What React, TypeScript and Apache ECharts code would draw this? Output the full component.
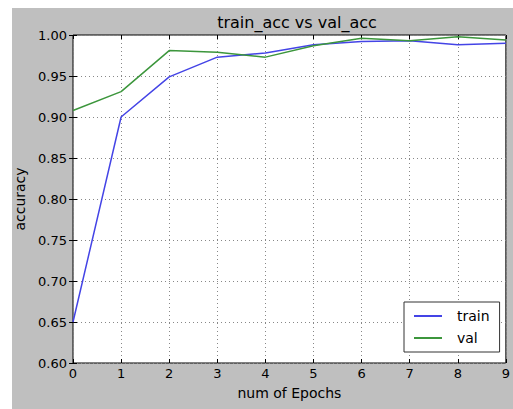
import React, { useEffect, useRef } from "react";
import * as echarts from "echarts";

const epochs = [0, 1, 2, 3, 4, 5, 6, 7, 8, 9];
const trainAcc = [0.65, 0.9, 0.949, 0.973, 0.978, 0.988, 0.992, 0.993, 0.988, 0.99];
const valAcc = [0.908, 0.931, 0.981, 0.979, 0.973, 0.987, 0.996, 0.993, 0.998, 0.994];
const seriesNames = ["train", "val"];

const FONT = "DejaVu Sans";

export default function App() {
  const ref = useRef<HTMLDivElement>(null);
  useEffect(() => {
    if (!ref.current) return;
    const chart = echarts.init(ref.current, undefined, { renderer: "svg" });
    const tickCommon = { show: true, inside: true, length: 4, lineStyle: { color: "#000", width: 1 } };
    chart.setOption({
      animation: false,
      backgroundColor: "#fff",
      textStyle: { fontFamily: FONT },
      graphic: [
        {
          type: "rect",
          z: -100,
          silent: true,
          shape: { x: 12, y: 8, width: 501, height: 401 },
          style: { fill: "#bfbfbf" },
        },
      ],
      title: {
        text: "train_acc vs val_acc",
        left: 292,
        textAlign: "center",
        top: 9,
        textStyle: { fontFamily: FONT, fontSize: 16, fontWeight: "normal", color: "#000" },
      },
      grid: {
        left: 73,
        right: 2,
        top: 35,
        bottom: 46,
        show: true,
        backgroundColor: "#fff",
        borderColor: "#000",
        borderWidth: 1,
      },
      legend: {
        data: seriesNames,
        orient: "vertical",
        left: 404,
        top: 302,
        padding: [7, 10, 7, 10],
        itemGap: 8,
        itemWidth: 28,
        itemHeight: 2,
        icon: "rect",
        backgroundColor: "#fff",
        borderColor: "#333",
        borderWidth: 1,
        borderRadius: 0,
        textStyle: { fontFamily: FONT, fontSize: 14, color: "#000", padding: [0, 0, 0, 10] },
      },
      xAxis: [
        {
          type: "value",
          min: 0,
          max: 9,
          interval: 1,
          name: "num of Epochs",
          nameLocation: "middle",
          nameGap: 23,
          nameTextStyle: { fontFamily: FONT, fontSize: 14, color: "#000" },
          axisLine: { show: false },
          axisTick: tickCommon,
          axisLabel: { color: "#000", fontFamily: FONT, fontSize: 13, margin: 4 },
          splitLine: { show: true, lineStyle: { color: "#888", type: [1, 3], width: 1 } },
        },
        {
          type: "value",
          position: "top",
          min: 0,
          max: 9,
          interval: 1,
          axisLine: { show: false },
          axisTick: tickCommon,
          axisLabel: { show: false },
          splitLine: { show: false },
        },
      ],
      yAxis: [
        {
          type: "value",
          min: 0.6,
          max: 1.0,
          interval: 0.05,
          name: "accuracy",
          nameLocation: "middle",
          nameGap: 38,
          nameTextStyle: { fontFamily: FONT, fontSize: 14, color: "#000" },
          axisLine: { show: false },
          axisTick: tickCommon,
          axisLabel: {
            color: "#000",
            fontFamily: FONT,
            fontSize: 13,
            margin: 6,
            formatter: (v: number) => v.toFixed(2),
          },
          splitLine: { show: true, lineStyle: { color: "#888", type: [1, 3], width: 1 } },
        },
        {
          type: "value",
          position: "right",
          min: 0.6,
          max: 1.0,
          interval: 0.05,
          axisLine: { show: false },
          axisTick: tickCommon,
          axisLabel: { show: false },
          splitLine: { show: false },
        },
      ],
      series: [
        {
          name: seriesNames[0],
          type: "line",
          symbol: "none",
          data: epochs.map((e, i) => [e, trainAcc[i]]),
          lineStyle: { color: "#4444e6", width: 1.5 },
          itemStyle: { color: "#4444e6" },
          z: 3,
        },
        {
          name: seriesNames[1],
          type: "line",
          symbol: "none",
          data: epochs.map((e, i) => [e, valAcc[i]]),
          lineStyle: { color: "#3c963c", width: 1.5 },
          itemStyle: { color: "#3c963c" },
          z: 3,
        },
      ],
    });
    return () => chart.dispose();
  }, []);
  return (
    <div
      ref={ref}
      style={{ position: "fixed", left: 0, top: 0, width: 513, height: 409 }}
    />
  );
}
